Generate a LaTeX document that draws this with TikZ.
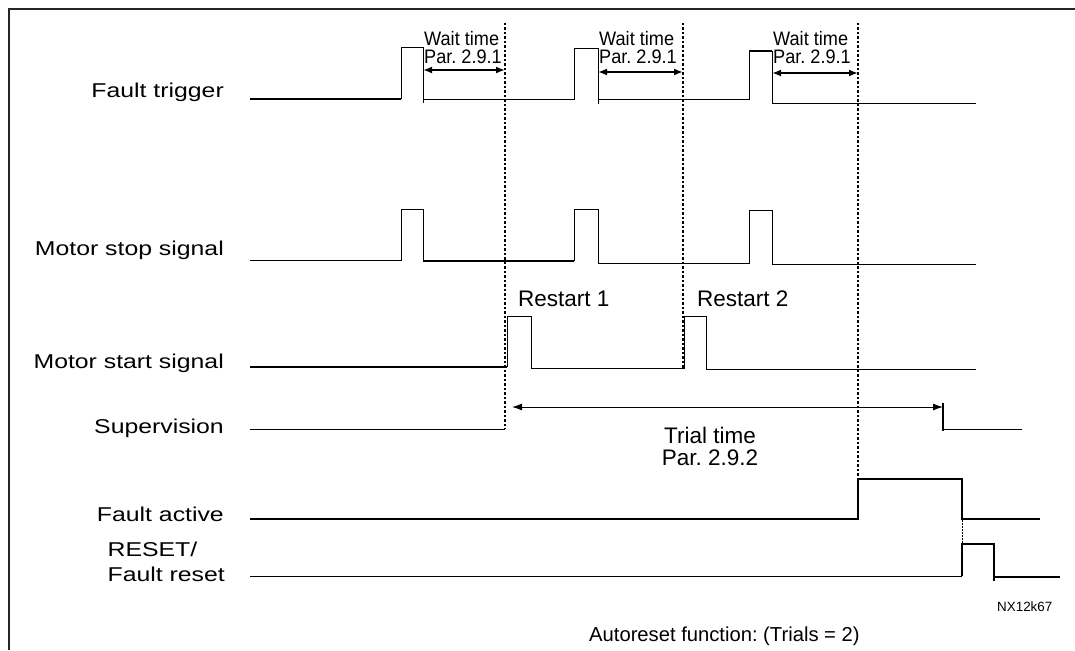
\documentclass[tikz,border=0pt]{standalone}
\usepackage{fontspec}
\setmainfont{Liberation Sans}
\newfontfamily\widefont{Liberation Sans}[FakeStretch=1.24]
\newfontfamily\narrowfont{Liberation Sans}[FakeStretch=0.93]
\frenchspacing
\usetikzlibrary{arrows.meta}
\tikzset{
  wave/.style={line width=1pt,line join=miter},
  wave bold/.style={line width=2pt,line join=miter},
  guide/.style={line width=2pt,dash pattern=on 2.5pt off 2pt},
  sig name/.style={font=\widefont\fontsize{20}{25}\selectfont,anchor=base east,inner sep=0pt},
  tag/.style={font=\narrowfont\fontsize{19.5}{18}\selectfont,align=left,anchor=north west,inner sep=0pt},
  big tag/.style={font=\fontsize{22.5}{22}\selectfont,inner sep=0pt},
  span/.style={{Latex[length=9pt,width=7pt]}-{Latex[length=9pt,width=7pt]},line width=2pt},
  trial/.style={{Latex[length=10pt,width=7pt]}-{Latex[length=10pt,width=7pt]},line width=1pt},
}
\begin{document}
\begin{tikzpicture}[x=1pt,y=-1pt]
    \useasboundingbox (0,0) rectangle (1075,650);
    \draw[line width=2pt,black!85] (9,650) -- (9,9) -- (1075,9);
    % signal names
    \node[sig name] (ft) at (224,98)  {Fault trigger};
    \node[sig name] (ms) at (224,255) {Motor stop signal};
    \node[sig name] (ma) at (224,368) {Motor start signal};
    \node[sig name] (sv) at (224,433) {Supervision};
    \node[sig name] (fa) at (224,521) {Fault active};
    \node[sig name,anchor=north east,align=left] (fr) at (225,541.5) {RESET/\\Fault reset};
    % instants
    \coordinate (t1) at (505,23);
    \coordinate (t2) at (683,23);
    \coordinate (t3) at (858,23);
    \draw[guide] (t1) -- (505,429);
    \draw[guide] (t2) -- (683,368);
    \draw[guide] (t3) -- (858,479);
    % fault trigger
    \draw[wave bold] (250,99) -- (401,99);
    \draw[wave] (401,99) |- (423,48) -- (423,103);
    \draw[wave] (423,100) -- (574,100) |- (598,49) -- (598,104);
    \draw[wave] (598,100) -- (749,100) -- (749,51);
    \draw[wave bold] (749,51) -- (772,51);
    \draw[wave] (772,51) -- (772,104) -- (976,104);
    % motor stop
    \draw[wave] (250,260) -- (401,260) |- (423,209) -- (423,262);
    \draw[wave bold] (423,261) -- (574,261);
    \draw[wave] (574,261) |- (598,209) -- (598,263) -- (749,263) |- (772,210) -- (772,264) -- (976,264);
    % motor start
    \draw[wave bold] (250,367) -- (507,367);
    \draw[wave] (507,367) |- (531,316) -- (531,368) -- (684,368) |- (706,316) -- (706,369) -- (976,369);
    \node[big tag,anchor=base west] (rs1) at (518,306) {Restart 1};
    \node[big tag,anchor=base west] (rs2) at (697,306) {Restart 2};
    % supervision
    \draw[wave] (250,429) -- (505,429);
    \coordinate (tr1) at (512,407);
    \coordinate (tr2) at (943,407);
    \draw[trial] (tr1) -- (tr2);
    \draw[wave bold] (943,403) -- (943,431);
    \draw[wave] (943,429) -- (1022,429);
    \node[big tag,align=center,anchor=north] (trt) at (710,427) {Trial time\\Par. 2.9.2};
    % fault active
    \draw[wave bold] (250,519) -- (858,519) |- (962,479) -- (962,519) -- (1040,519);
    \draw[line width=1pt,dash pattern=on 2pt off 1pt] (962,520) -- (962,544);
    % reset
    \draw[wave] (250,576) -- (962,576);
    \draw[wave bold] (962,576) |- (994,544) -- (994,581);
    \draw[wave bold] (994,577) -- (1060,577);
    % wait times
    \foreach \a/\b/\y/\n in {423/505/70/w1,598/683/72/w2,772/858/73/w3}{
      \coordinate (\n a) at (\a,\y);
      \coordinate (\n b) at (\b,\y);
      \draw[span] (\n a) -- (\n b);
      \node[tag] (\n) at (\a+1,31) {Wait time\\Par. 2.9.1};
    }
    \node[font=\fontsize{13.4}{16}\selectfont,anchor=base west,inner sep=0pt] (code) at (997,611) {NX12k67};
    \node[font=\fontsize{20.2}{24}\selectfont,anchor=base west,inner sep=0pt] (cap) at (589,641) {Autoreset function: (Trials = 2)};
\end{tikzpicture}
\end{document}
